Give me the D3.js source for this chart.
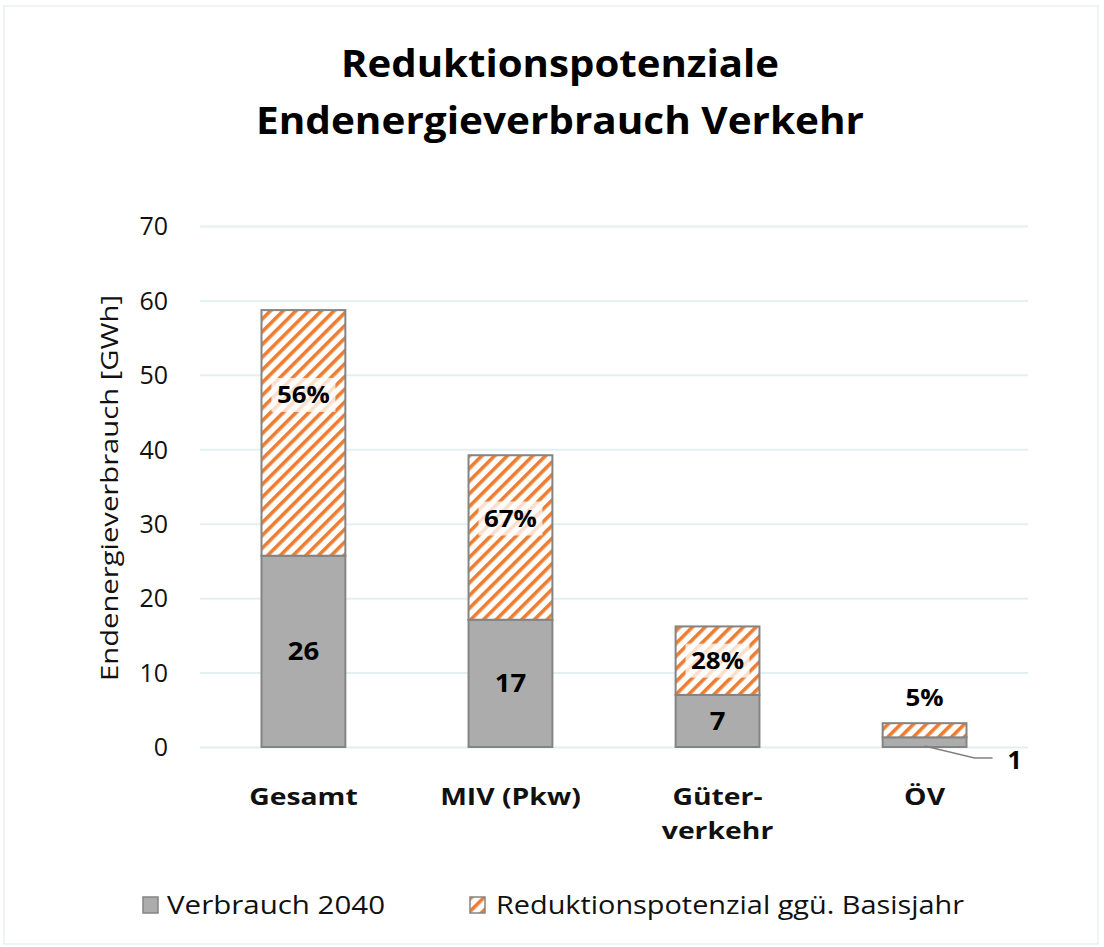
<!DOCTYPE html>
<html>
<head>
<meta charset="utf-8">
<script src="https://cdn.jsdelivr.net/npm/d3@7"></script>
<style>
  body { margin: 0; background: #fff; }
  svg { font-family: "Open Sans", "Noto Sans", sans-serif; }
</style>
</head>
<body>
<svg width="1104" height="947"></svg>
<script>
const categories = [["Gesamt"], ["MIV (Pkw)"], ["Güter-", "verkehr"], ["ÖV"]];
const verbrauch = [25.7, 17.1, 7.0, 1.3];
const reduktion = [33.0, 22.1, 9.2, 1.9];
const verbrauchLabels = ["26", "17", "7", "1"];
const reduktionLabels = ["56%", "67%", "28%", "5%"];
const yTicks = [0, 10, 20, 30, 40, 50, 60, 70];
const seriesNames = ["Verbrauch 2040", "Reduktionspotenzial ggü. Basisjahr"];

const svg = d3.select('svg');
const margin = { top: 226, left: 200, right: 76, bottom: 200 };
const width = +svg.attr('width') - margin.left - margin.right;
const height = 747 - margin.top;

const grey = '#acacac';
const orange = '#ed7d31';
const gridColor = '#e3f0f0';
const font = '"Open Sans", "Noto Sans", sans-serif';

// stretch text horizontally to mimic the wider original font
function stretch(sel, factor) {
    sel.each(function () {
        const w = this.getComputedTextLength();
        d3.select(this).attr('textLength', w * factor).attr('lengthAdjust', 'spacingAndGlyphs');
    });
}

// outer frame
svg.append('rect')
    .attr('x', 4).attr('y', 6)
    .attr('width', 1094).attr('height', 938)
    .attr('fill', 'none')
    .attr('stroke', '#e6f1f1')
    .attr('stroke-width', 1.5);

// stripe pattern
const defs = svg.append('defs');
const pat = defs.append('pattern')
    .attr('id', 'stripes')
    .attr('patternUnits', 'userSpaceOnUse')
    .attr('width', 9).attr('height', 9)
    .attr('patternTransform', 'rotate(45)');
pat.append('rect').attr('width', 9).attr('height', 9).attr('fill', '#fff');
pat.append('rect').attr('x', 0).attr('width', 3.6).attr('height', 9).attr('fill', orange);

const g = svg.append('g').attr('transform', `translate(${margin.left}, ${margin.top})`);

const x = d3.scaleBand().domain(d3.range(categories.length)).range([0, width]).paddingInner(0.595).paddingOuter(0.297);
const y = d3.scaleLinear().domain([0, 70]).range([height, 0]);

// title
const title = svg.append('text')
    .attr('text-anchor', 'middle')
    .style('font-weight', 'bold')
    .style('font-size', '37px');
title.append('tspan').attr('x', 560).attr('y', 77).text('Reduktionspotenziale')
    .attr('textLength', 438).attr('lengthAdjust', 'spacingAndGlyphs');
title.append('tspan').attr('x', 560).attr('y', 134).text('Endenergieverbrauch Verkehr')
    .attr('textLength', 608).attr('lengthAdjust', 'spacingAndGlyphs');

// y axis
const yAxis = d3.axisLeft(y).tickValues(yTicks).tickSize(-width).tickPadding(32);
g.append('g')
    .attr('class', 'axis axis--y')
    .call(yAxis)
    .call(ax => {
        ax.attr('font-family', font).attr('font-size', null);
        ax.select('.domain').remove();
        ax.selectAll('.tick line').attr('stroke', gridColor).attr('stroke-width', 2);
        ax.selectAll('.tick text').style('font-size', '25px').attr('fill', '#111').attr('dy', '0.35em');
    });

svg.append('text')
    .attr('transform', 'translate(118, 488) rotate(-90)')
    .attr('text-anchor', 'middle')
    .style('font-size', '23px')
    .attr('fill', '#111')
    .attr('textLength', 386)
    .attr('lengthAdjust', 'spacingAndGlyphs')
    .text('Endenergieverbrauch [GWh]');

// bars
const bars = g.selectAll('.bar')
    .data(categories.map((c, i) => ({ i, v: verbrauch[i], r: reduktion[i] })))
    .enter().append('g');

bars.append('rect')
    .attr('x', d => x(d.i))
    .attr('width', x.bandwidth())
    .attr('y', d => y(d.v))
    .attr('height', d => y(0) - y(d.v))
    .attr('fill', grey)
    .attr('stroke', '#848484')
    .attr('stroke-width', 2);

bars.append('rect')
    .attr('x', d => x(d.i))
    .attr('width', x.bandwidth())
    .attr('y', d => y(d.v + d.r))
    .attr('height', d => y(d.v) - y(d.v + d.r))
    .attr('fill', 'url(#stripes)')
    .attr('stroke', '#848484')
    .attr('stroke-width', 2);

// labels for grey part
bars.filter(d => d.i < 3).append('text')
    .attr('x', d => x(d.i) + x.bandwidth() / 2)
    .attr('y', d => y(d.v / 2))
    .attr('dy', '0.35em')
    .attr('text-anchor', 'middle')
    .style('font-weight', 'bold')
    .style('font-size', '25px')
    .text(d => verbrauchLabels[d.i])
    .call(stretch, 1.1);

// ÖV label with leader line
const ov = bars.filter(d => d.i === 3);
ov.append('polyline')
    .attr('points', d => {
        const cx = x(d.i) + x.bandwidth() / 2;
        return [[cx, y(0) - 1], [cx + 50, y(0) + 11], [cx + 68, y(0) + 11]].map(p => p.join(',')).join(' ');
    })
    .attr('fill', 'none')
    .attr('stroke', '#808080')
    .attr('stroke-width', 1.5);
ov.append('text')
    .attr('x', d => x(d.i) + x.bandwidth() / 2 + 90)
    .attr('y', y(0) + 13)
    .attr('dy', '0.35em')
    .attr('text-anchor', 'middle')
    .style('font-weight', 'bold')
    .style('font-size', '25px')
    .text(d => verbrauchLabels[d.i]);

// percentage labels (first two were moved up in the original)
const pctShift = [-38, -19, 0, 0];
bars.each(function (d) {
    const sel = d3.select(this);
    const cx = x(d.i) + x.bandwidth() / 2;
    const inside = d.i < 3;
    const cy = inside ? y(d.v + d.r / 2) + pctShift[d.i] : y(d.v + d.r) - 26;
    if (inside) {
        sel.append('rect')
            .attr('x', cx - 32).attr('y', cy - 17)
            .attr('width', 64).attr('height', 34)
            .attr('fill', 'rgba(255,255,255,0.75)');
    }
    sel.append('text')
        .attr('x', cx)
        .attr('y', cy)
        .attr('dy', '0.35em')
        .attr('text-anchor', 'middle')
        .style('font-weight', 'bold')
        .style('font-size', '24px')
        .text(reduktionLabels[d.i])
        .call(stretch, 1.08);
});

// category labels
categories.forEach((lines, i) => {
    const t = g.append('text')
        .attr('text-anchor', 'middle')
        .style('font-weight', 'bold')
        .style('font-size', '24px')
        .attr('fill', '#111');
    lines.forEach((l, k) => {
        t.append('tspan')
            .attr('x', x(i) + x.bandwidth() / 2)
            .attr('y', height + 58 + k * 34)
            .text(l);
    });
    t.selectAll('tspan').call(stretch, 1.18);
});

// legend
const legend = svg.append('g').attr('transform', 'translate(143, 905)');
legend.append('rect').attr('x', 0).attr('y', -8).attr('width', 15).attr('height', 16)
    .attr('fill', grey).attr('stroke', '#848484').attr('stroke-width', 1.5);
legend.append('text').attr('x', 24).attr('y', 0).attr('dy', '0.35em')
    .style('font-size', '25px').attr('fill', '#111').text(seriesNames[0])
    .attr('textLength', 218).attr('lengthAdjust', 'spacingAndGlyphs');
legend.append('rect').attr('x', 327).attr('y', -8).attr('width', 15).attr('height', 16)
    .attr('fill', 'url(#stripes)').attr('stroke', '#848484').attr('stroke-width', 1.5);
legend.append('text').attr('x', 353).attr('y', 0).attr('dy', '0.35em')
    .style('font-size', '25px').attr('fill', '#111').text(seriesNames[1])
    .attr('textLength', 468).attr('lengthAdjust', 'spacingAndGlyphs');
</script>
</body>
</html>
